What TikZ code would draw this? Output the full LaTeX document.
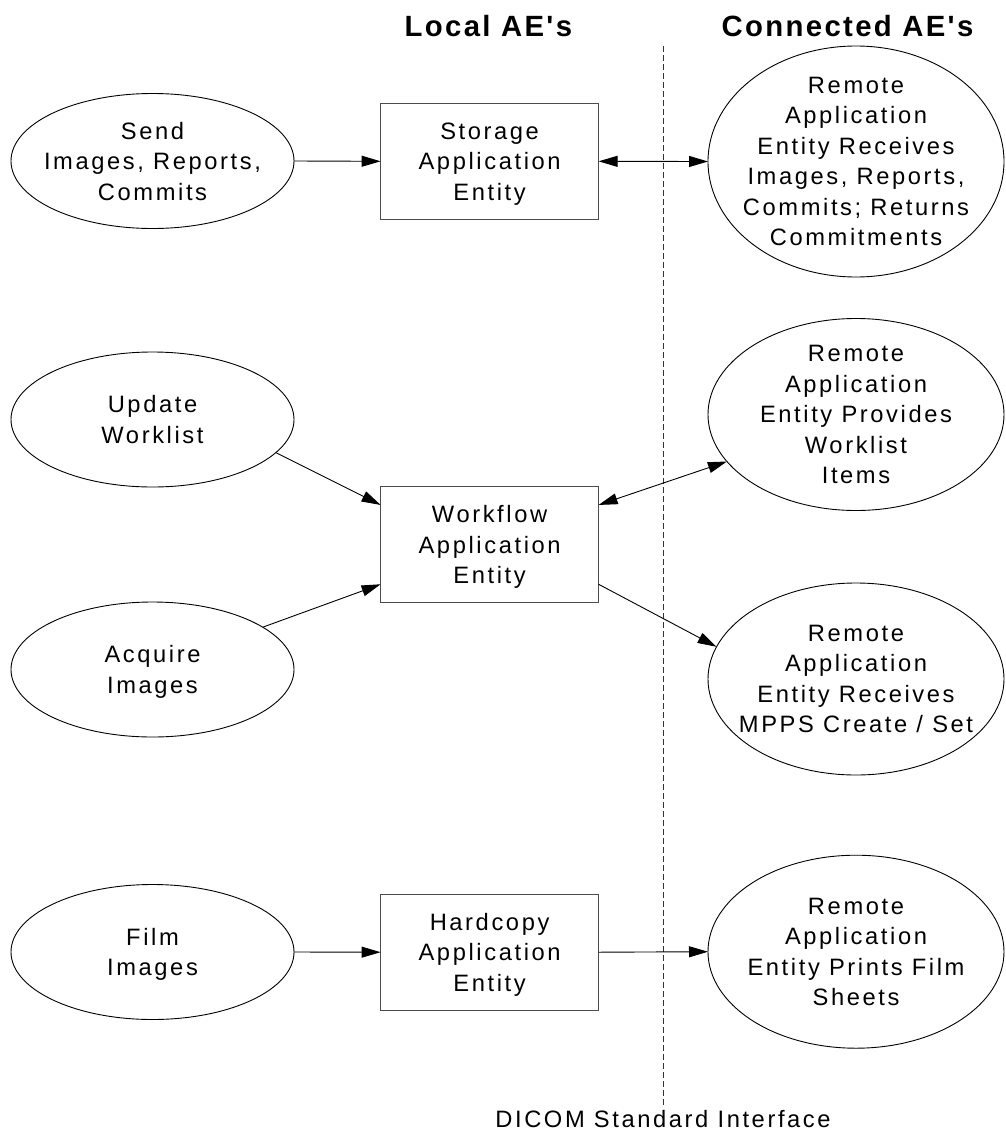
\documentclass[tikz,border=0pt]{standalone}
\usepackage{fontspec}
\setmainfont{Liberation Sans}
\newfontfamily\diagfont{Liberation Sans}[Ligatures=TeXOff, LetterSpace=11]
\newfontfamily\diagtitlefont{Liberation Sans}[Ligatures=TeXOff, LetterSpace=8]
\usetikzlibrary{arrows.meta,shapes.geometric}
\begin{document}
\begin{tikzpicture}[x=1pt,y=-1pt,
  every node/.style={inner sep=0pt, outer sep=0pt},
  leftell/.style={draw=black, line width=0.9pt, ellipse, minimum width=283pt, minimum height=135pt},
  remell/.style={draw=black, line width=0.9pt, ellipse, minimum width=296pt, minimum height=192pt},
  aebox/.style={draw=black!70, line width=1pt, rectangle, minimum width=218pt, minimum height=116pt},
  txt/.style={align=center, font=\diagfont\fontsize{23.7}{30.5}\selectfont, text depth=0pt},
  ttl/.style={font=\diagtitlefont\bfseries\fontsize{29.3}{35}\selectfont, anchor=base},
  conn/.style={line width=0.9pt, -{Triangle[length=19pt,width=11pt]}},
  biconn/.style={line width=0.9pt, {Triangle[length=19pt,width=11pt]}-{Triangle[length=19pt,width=11pt]}},
  divider/.style={line width=0.8pt, black!80, dash pattern=on 6pt off 3pt}
]
\useasboundingbox (0,0) rectangle (1005,1130);

% titles
\node[ttl] (loc) at (488.4,36) {Local AE's};
\node[ttl] (con) at (847.5,36) {Connected AE's};

% divider
\coordinate (dtop) at (663,46);
\coordinate (dbot) at (663,1107);
\draw[divider] (dtop) -- (dbot);
\node[txt, anchor=base] (dicom) at (663,1127) {DICOM Standard Interface};

% left ellipses
\node[leftell] (send) at (152.5,161) {};
\node[txt] (sendt) at (send.center) {Send\\Images, Reports,\\Commits};
\node[leftell] (upd) at (152.5,419.5) {};
\node[txt] (updt) at (upd.center) {Update\\Worklist};
\node[leftell] (acq) at (152.5,669.5) {};
\node[txt] (acqt) at (acq.center) {Acquire\\Images};
\node[leftell] (film) at (152.5,952) {};
\node[txt] (filmt) at (film.center) {Film\\Images};

% local AE boxes
\node[aebox] (stor) at (489.6,161.3) {};
\node[txt] (stort) at (stor.center) {Storage\\Application\\Entity};
\node[aebox] (wf) at (489.6,544.6) {};
\node[txt] (wft) at (wf.center) {Workflow\\Application\\Entity};
\node[aebox] (hard) at (489.6,952.2) {};
\node[txt] (hardt) at (hard.center) {Hardcopy\\Application\\Entity};

% remote ellipses
\node[remell, minimum height=231pt] (r1) at (856,161.5) {};
\node[txt] (r1t) at (r1.center) {Remote\\Application\\Entity Receives\\Images, Reports,\\Commits; Returns\\Commitments};
\node[remell] (r2) at (856,414.5) {};
\node[txt] (r2t) at (r2.center) {Remote\\Application\\Entity Provides\\Worklist\\Items};
\node[remell] (r3) at (856,679) {};
\node[txt] (r3t) at (r3.center) {Remote\\Application\\Entity Receives\\MPPS Create / Set};
\node[remell, minimum height=193pt] (r4) at (856,951.7) {};
\node[txt] (r4t) at (r4.center) {Remote\\Application\\Entity Prints Film\\Sheets};

% connectors
\draw[conn] (send.east) -- (stor.west);
\draw[biconn] (stor.east) -- (r1.west);
\draw[conn] (upd.-15.5) -- (wf.160);
\draw[conn] (acq.21) -- (wf.200);
\draw[biconn] (wf.20) -- (r2.200);
\draw[conn] (wf.-20) -- (r3.167);
\draw[conn] (film.east) -- (hard.west);
\draw[conn] (hard.east) -- (r4.west);
\end{tikzpicture}
\end{document}
